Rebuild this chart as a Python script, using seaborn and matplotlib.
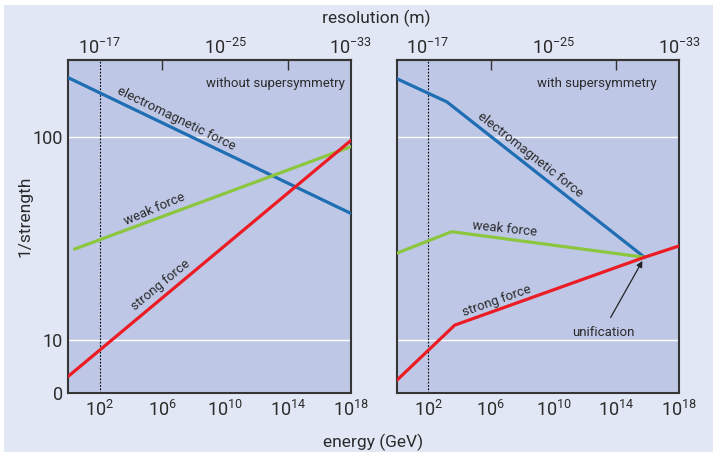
import numpy as np
import pandas as pd
import matplotlib
matplotlib.use("Agg")
import matplotlib.pyplot as plt
from matplotlib.patches import Rectangle
import seaborn as sns

# energy axis is log10(E / GeV); values are 1/strength
FORCES = ["electromagnetic", "weak", "strong"]
COLORS = {"electromagnetic": "#1f6db3", "weak": "#8cc63f", "strong": "#ec1c24"}

# without supersymmetry
NOSUSY_EM_E = [0, 18]
NOSUSY_EM = [196, 42]
NOSUSY_WEAK_E = [0.4, 18]
NOSUSY_WEAK = [28, 89.5]
NOSUSY_STRONG_E = [0, 18]
NOSUSY_STRONG = [6.6, 96]

# with supersymmetry
SUSY_EM_E = [0, 3.2, 15.8]
SUSY_EM = [194, 149, 25.5]
SUSY_WEAK_E = [0, 3.5, 15.8]
SUSY_WEAK = [26.7, 34.1, 25.5]
SUSY_STRONG_E = [0, 3.7, 15.8, 18]
SUSY_STRONG = [6.3, 11.8, 25.5, 29.0]
UNIFICATION = (15.8, 25.5)

ENERGY_TICKS = [2, 6, 10, 14, 18]
RES_TICKS = [-17, -25, -33]
Y_TICKS = [5.44, 10, 100]
Y_TICK_LABELS = ["0", "10", "100"]
Y_LIM = (5.44, 239)

sns.set_theme(style="white")
plt.rcParams["font.family"] = ["Roboto", "DejaVu Sans"]
plt.rcParams["mathtext.fontset"] = "custom"
plt.rcParams["mathtext.rm"] = "Roboto"
plt.rcParams["mathtext.it"] = "Roboto:italic"
plt.rcParams["mathtext.bf"] = "Roboto:bold"

TXT = "#2b2b2b"
FACE = "#bec8e6"
OUTER = "#e2e7f5"
LBL = 9.5
TICK = 13


def make_frame(em_e, em, weak_e, weak, strong_e, strong):
    rows = []
    for force, xs, ys in [("electromagnetic", em_e, em), ("weak", weak_e, weak),
                          ("strong", strong_e, strong)]:
        for x, y in zip(xs, ys):
            rows.append({"logE": x, "inv": y, "force": force})
    return pd.DataFrame(rows)


fig = plt.figure(figsize=(7.17, 4.57), dpi=100)
fig.patch.set_facecolor("white")
fig.add_artist(Rectangle((4 / 717, 5 / 457), 709 / 717, 447 / 457, transform=fig.transFigure,
                         facecolor=OUTER, edgecolor="none", zorder=-10))

ax_l = fig.add_axes([0.0953, 0.1394, 0.3939, 0.7287])
ax_r = fig.add_axes([0.5533, 0.1394, 0.3937, 0.7287])

panels = [
    (ax_l, make_frame(NOSUSY_EM_E, NOSUSY_EM, NOSUSY_WEAK_E, NOSUSY_WEAK,
                      NOSUSY_STRONG_E, NOSUSY_STRONG), "without supersymmetry", 0.98, True),
    (ax_r, make_frame(SUSY_EM_E, SUSY_EM, SUSY_WEAK_E, SUSY_WEAK,
                      SUSY_STRONG_E, SUSY_STRONG), "with supersymmetry", 0.921, False),
]

for ax, df, title, tx, show_y in panels:
    ax.set_facecolor(FACE)
    ax.set_yscale("log")
    sns.lineplot(data=df, x="logE", y="inv", hue="force", palette=COLORS, hue_order=FORCES,
                 sort=False, estimator=None, linewidth=2.3, legend=False, ax=ax, zorder=3)
    ax.set_xlim(0, 18)
    ax.set_ylim(*Y_LIM)
    ax.axvline(2, color="black", linestyle=(0, (1.5, 1.5)), linewidth=0.8, zorder=2)
    for yv in Y_TICKS[1:]:
        ax.axhline(yv, color="white", linewidth=1.0, zorder=1)
    ax.minorticks_off()
    ax.set_yticks(Y_TICKS)
    if show_y:
        ax.set_yticklabels(Y_TICK_LABELS)
    else:
        ax.set_yticklabels([])
    ax.tick_params(axis="y", length=0, pad=4, labelsize=TICK, labelcolor=TXT)
    ax.set_xticks(ENERGY_TICKS)
    ax.set_xticklabels([f"$10^{{{t}}}$" for t in ENERGY_TICKS])
    ax.set_xticks([6, 10, 14], minor=True)
    ax.tick_params(axis="x", which="major", length=0, pad=5, labelsize=TICK, labelcolor=TXT)
    ax.tick_params(axis="x", which="minor", direction="in", length=7, width=1, color="#333333",
                   bottom=True)
    ax.set_xlabel("")
    ax.set_ylabel("")
    for sp in ax.spines.values():
        sp.set_color("#353535")
        sp.set_linewidth(1.5)

    top = ax.secondary_xaxis("top", functions=(lambda x: -15 - x, lambda r: -15 - r))
    top.set_xticks(RES_TICKS)
    top.set_xticklabels([f"$10^{{{t}}}$" for t in RES_TICKS])
    top.set_xticks([-21, -25, -29], minor=True)
    top.tick_params(axis="x", which="major", length=0, pad=2, labelsize=TICK, labelcolor=TXT)
    top.tick_params(axis="x", which="minor", direction="in", length=7, width=1, color="#333333")
    top.spines["top"].set_color("#353535")
    top.spines["top"].set_linewidth(1.5)

    ax.text(tx, 0.929, title, transform=ax.transAxes, ha="right", va="center",
            fontsize=LBL, color=TXT)

# line labels, left panel
ax_l.text(6.86, 123, "electromagnetic force", rotation=-26, ha="center", va="center",
          fontsize=LBL, color=TXT, rotation_mode="anchor")
ax_l.text(5.47, 44.2, "weak force", rotation=23, ha="center", va="center",
          fontsize=LBL, color=TXT, rotation_mode="anchor")
ax_l.text(5.9, 18.6, "strong force", rotation=39.5, ha="center", va="center",
          fontsize=LBL, color=TXT, rotation_mode="anchor")

# line labels, right panel
ax_r.text(8.53, 81.5, "electromagnetic force", rotation=-38, ha="center", va="center",
          fontsize=LBL, color=TXT, rotation_mode="anchor")
ax_r.text(6.88, 35.2, "weak force", rotation=-6, ha="center", va="center",
          fontsize=LBL, color=TXT, rotation_mode="anchor")
ax_r.text(6.35, 15.6, "strong force", rotation=19.5, ha="center", va="center",
          fontsize=LBL, color=TXT, rotation_mode="anchor")
ax_r.annotate("unification", xy=UNIFICATION, xytext=(13.15, 10.9), ha="center", va="center",
              fontsize=LBL, color=TXT,
              arrowprops=dict(arrowstyle="-|>", color="#222222", lw=0.9, mutation_scale=9,
                              shrinkA=4, shrinkB=3, relpos=(0.55, 1.0)))

fig.text(25 / 717, 1 - 216 / 457, "1/strength", rotation=90, ha="center", va="center",
         fontsize=12.5, color=TXT)
fig.text(373 / 717, 1 - 442 / 457, "energy (GeV)", ha="center", va="center",
         fontsize=12.5, color=TXT)
fig.text(376 / 717, 1 - 18 / 457, "resolution (m)", ha="center", va="center",
         fontsize=12.5, color=TXT)

fig.savefig("out.png", dpi=100)
